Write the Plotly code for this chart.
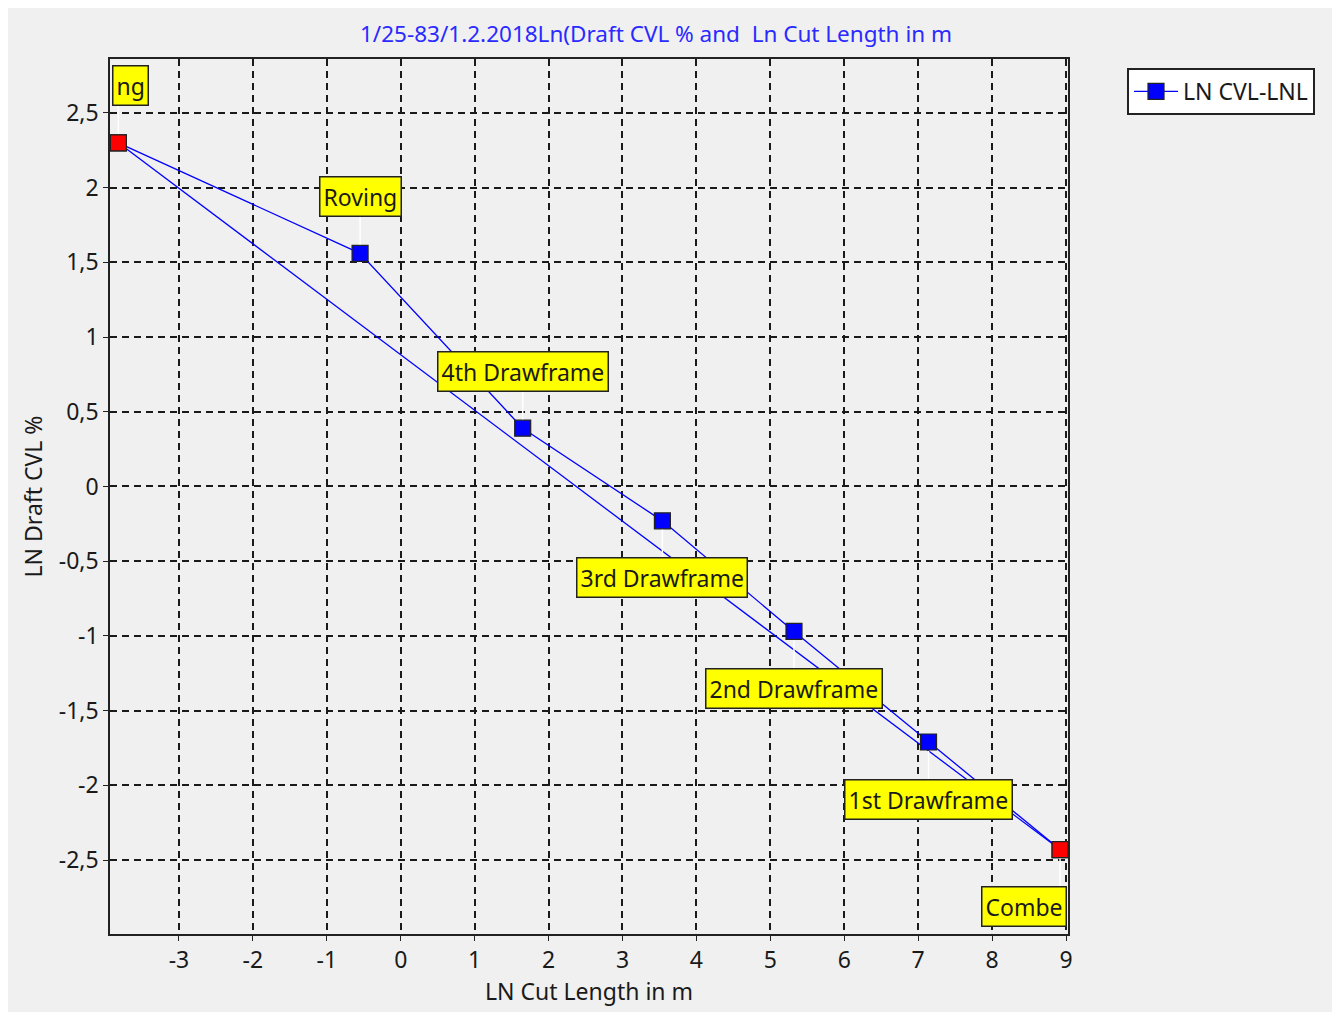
import plotly.graph_objects as go

# ---- data ----
ln_cut_length = [-3.82, -0.55, 1.65, 3.54, 5.32, 7.14, 8.92]
ln_draft_cvl = [2.30, 1.56, 0.39, -0.23, -0.97, -1.71, -2.43]
stage_labels = ["ng", "Roving", "4th Drawframe", "3rd Drawframe",
                "2nd Drawframe", "1st Drawframe", "Combe"]
x_tick_vals = [-3, -2, -1, 0, 1, 2, 3, 4, 5, 6, 7, 8, 9]
x_tick_text = ["-3", "-2", "-1", "0", "1", "2", "3", "4", "5", "6", "7", "8", "9"]
y_tick_vals = [2.5, 2, 1.5, 1, 0.5, 0, -0.5, -1, -1.5, -2, -2.5]
y_tick_text = ["2,5", "2", "1,5", "1", "0,5", "0", "-0,5", "-1", "-1,5", "-2", "-2,5"]

FONT = "Noto Sans"
TXT = "#1a1a1a"

fig = go.Figure()

# straight line between the two end points
fig.add_trace(go.Scatter(
    x=[ln_cut_length[0], ln_cut_length[-1]],
    y=[ln_draft_cvl[0], ln_draft_cvl[-1]],
    mode="lines", line=dict(color="#0000ff", width=1.3),
    showlegend=False, hoverinfo="skip"))

# main series
fig.add_trace(go.Scatter(
    x=ln_cut_length, y=ln_draft_cvl, mode="lines+markers",
    name="LN CVL-LNL",
    line=dict(color="#0000ff", width=1.3),
    marker=dict(symbol="square", size=16, color="#0000ff",
                line=dict(color="#222222", width=1.2))))

# red end points
fig.add_trace(go.Scatter(
    x=[ln_cut_length[0], ln_cut_length[-1]],
    y=[ln_draft_cvl[0], ln_draft_cvl[-1]],
    mode="markers", showlegend=False,
    marker=dict(symbol="square", size=16, color="#ff0000",
                line=dict(color="#222222", width=1.2))))

# labels with white connectors
n = len(stage_labels)
for i, (xv, yv, lab) in enumerate(zip(ln_cut_length, ln_draft_cvl, stage_labels)):
    above = i < 3
    dy = 57 if above else -57
    xs = 0
    if i == 0:
        xs = 12
    elif i == n - 1:
        xs = -36
    fig.add_annotation(x=xv, y=yv, text="", showarrow=True, ax=0, ay=-dy,
                       arrowhead=0, arrowwidth=1.5, arrowcolor="#ffffff",
                       standoff=9)
    fig.add_annotation(x=xv, y=yv, text=lab, showarrow=False,
                       xshift=xs, yshift=dy,
                       font=dict(family=FONT, size=23, color=TXT),
                       bgcolor="#ffff00", bordercolor="#222222",
                       borderwidth=1.5, borderpad=3)

axis_common = dict(showline=True, linecolor="#222222", linewidth=1.5,
                   ticks="outside", ticklen=5, tickcolor="#222222",
                   tickfont=dict(family=FONT, size=23, color=TXT),
                   zeroline=False)

fig.update_layout(
    width=1340, height=1012,
    paper_bgcolor="#f0f0f0", plot_bgcolor="#f0f0f0",
    margin=dict(l=102, r=280, t=51, b=86),
    font=dict(family=FONT, size=23, color=TXT),
    title=dict(text="1/25-83/1.2.2018Ln(Draft CVL % and  Ln Cut Length in m",
               x=648 / 1340, xref="container", xanchor="center",
               y=1 - 26 / 1012, yref="container", yanchor="middle",
               font=dict(family=FONT, size=22.5, color="#2a2aff")),
    xaxis=dict(range=[-3.933, 9.027], tickmode="array",
               tickvals=x_tick_vals, ticktext=x_tick_text,
               showgrid=True, gridcolor="#1a1a1a", gridwidth=1.5,
               griddash="7px,5px", mirror=True,
               title=dict(text="LN Cut Length in m", standoff=6,
                          font=dict(family=FONT, size=23, color=TXT)),
               **axis_common),
    yaxis=dict(range=[-2.995, 2.861], tickmode="array",
               tickvals=y_tick_vals, ticktext=y_tick_text,
               showgrid=True, gridcolor="#1a1a1a", gridwidth=1.5,
               griddash="7px,5px", mirror=True,
               title=dict(text="LN Draft CVL %", standoff=10,
                          font=dict(family=FONT, size=23, color=TXT)),
               **axis_common),
    yaxis2=dict(range=[-2.995, 2.861], tickmode="array",
                tickvals=y_tick_vals, ticktext=y_tick_text,
                overlaying="y", side="right", anchor="x",
                showgrid=False, matches="y",
                **axis_common),
    legend=dict(x=(1127 - 110) / 958, y=(934 - 68) / 875,
                xanchor="left", yanchor="top", itemwidth=44,
                bgcolor="#ffffff", bordercolor="#222222", borderwidth=2,
                font=dict(family=FONT, size=23, color=TXT)),
    showlegend=True,
)

fig.write_html("out.html")
